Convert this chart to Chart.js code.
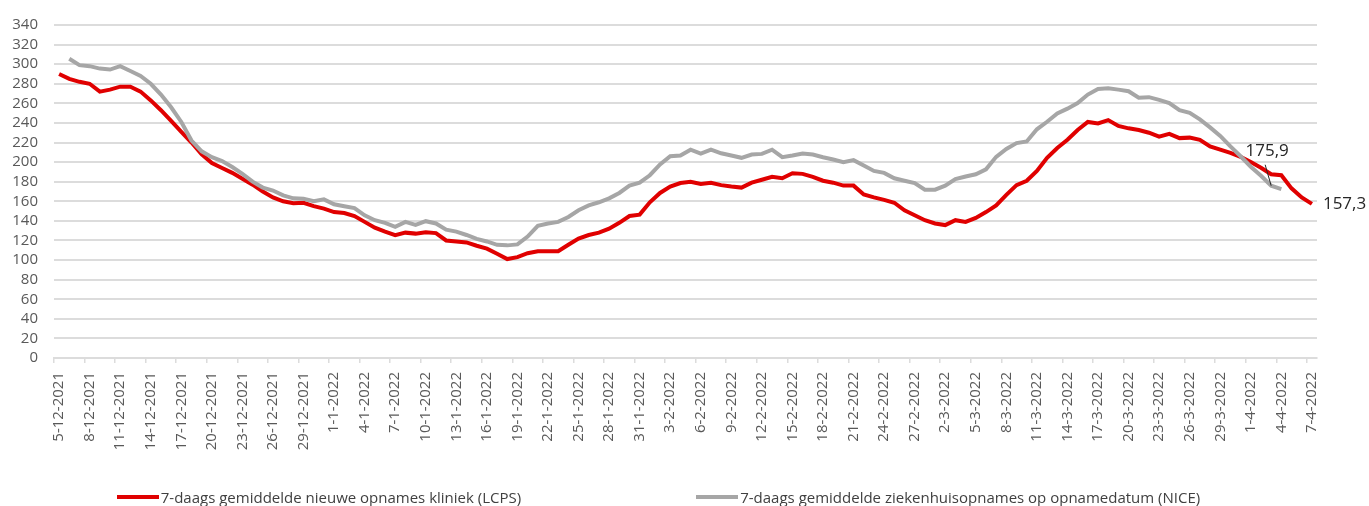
<!DOCTYPE html>
<html>
<head>
<meta charset="utf-8">
<script src="https://cdn.jsdelivr.net/npm/chart.js@4/dist/chart.umd.min.js"></script>
<style>
  html, body { margin: 0; padding: 0; background: #fff; }
  #wrap { position: relative; width: 1369px; height: 506px; }
  #legend {
    position: absolute; left: 0; top: 487px; width: 1317px;
    display: flex; justify-content: center; gap: 175px;
    font: 15px "Open Sans", sans-serif; color: #404040;
  }
  #legend .item { display: flex; align-items: center; }
  #legend .swatch { width: 42px; height: 4px; margin-right: 2px; }
</style>
</head>
<body>
<div id="wrap">
  <canvas id="chart" width="1369" height="506"></canvas>
  <div id="legend"></div>
</div>
<script>
const startDate = new Date(2021, 11, 5);
const dayCount = 124;
const dates = [];
for (let i = 0; i < dayCount; i++) {
  const d = new Date(startDate.getFullYear(), startDate.getMonth(), startDate.getDate() + i);
  dates.push(`${d.getDate()}-${d.getMonth() + 1}-${d.getFullYear()}`);
}

const lcps = [
  290, 285, 282, 280, 272, 274, 277, 277, 272, 263,
  253, 242, 231, 220, 208, 199, 194, 189, 183, 177,
  170, 164, 160, 158, 158.5, 155, 152.5, 149, 148, 145,
  139, 133, 129, 125.5, 128, 127, 128.5, 127.5, 120, 119,
  118, 114.6, 111.6, 106.5, 101, 103, 107, 109, 109, 109,
  115.6, 122, 125.6, 128, 132, 138, 145, 146.4, 159, 168.5,
  175, 178.6, 180, 177.6, 179, 176.5, 175, 174, 179, 182,
  185, 183.6, 188.6, 188, 185, 181, 179, 176, 176, 167,
  164, 161.5, 158.5, 150.8, 145.7, 140.7, 137.4, 135.7, 140.7, 139,
  143, 149, 155.8, 166.5, 176.5, 181, 191, 204.4, 214.4, 222.8,
  232.8, 241, 239.5, 242.9, 236.9, 234.5, 232.8, 230, 226, 228.8,
  224.5, 225, 222.8, 216, 212.7, 209.4, 205.4, 200, 194.3, 187.6,
  186.6, 173.2, 164, 157.3
];

const nice = [
  null, 305.5, 299, 298, 295.5, 294.5, 298, 293, 288, 280,
  269, 256, 241, 222, 211, 205, 201, 195, 188, 180,
  174, 171, 166, 163, 162.5, 160, 162, 157, 155, 153,
  145.7, 140.7, 138, 134, 139, 136, 139.7, 137.4, 131, 129,
  125.6, 121.6, 119, 115.6, 115, 116, 124, 135, 137.4, 139,
  144, 150.8, 155.8, 159, 163, 168.5, 176, 179, 186.6, 197.7,
  206, 206.7, 212.7, 208.7, 212.7, 209, 206.7, 204.4, 207.7, 208.4,
  212.7, 205, 206.7, 208.7, 207.7, 205, 202.7, 200, 202, 196.6,
  191, 189, 183.5, 181, 178.6, 171.9, 171.9, 175.9, 182.6, 185.3,
  187.6, 192.6, 205.4, 213.4, 219.4, 221.1, 233.5, 241.2, 249.6, 254.6,
  260.3, 269, 274.7, 275.4, 274, 272.4, 265.7, 266.3, 263.6, 260.3,
  253, 250.3, 243.6, 235.5, 226.8, 216, 206, 195.3, 186, 175.9,
  172.5, null, null, null
];

const seriesNames = [
  "7-daags gemiddelde nieuwe opnames kliniek (LCPS)",
  "7-daags gemiddelde ziekenhuisopnames op opnamedatum (NICE)"
];
const niceLabelIndex = 119;

const red = "#e00000";
const grey = "#a6a6a6";
const gridGrey = "#dcdcdc";
const textGrey = "#595959";

Chart.defaults.font.family = "'Open Sans', sans-serif";
Chart.defaults.color = textGrey;

const fmt = (v) => v.toFixed(1).replace(".", ",");

const valueLabels = {
  id: "valueLabels",
  afterDatasetsDraw(chart) {
    const { ctx, scales: { x, y } } = chart;
    ctx.save();
    ctx.font = "17px 'Open Sans', sans-serif";
    ctx.fillStyle = "#262626";
    ctx.textBaseline = "middle";

    const last = lcps.length - 1;
    const lx = x.getPixelForValue(last);
    const ly = y.getPixelForValue(lcps[last]);
    ctx.textAlign = "left";
    ctx.fillText(fmt(lcps[last]), lx + 11, ly);

    const gx = x.getPixelForValue(niceLabelIndex);
    const gy = y.getPixelForValue(nice[niceLabelIndex]);
    ctx.strokeStyle = "#262626";
    ctx.lineWidth = 1;
    ctx.beginPath();
    ctx.moveTo(gx, gy);
    ctx.lineTo(gx - 6, gy - 21);
    ctx.stroke();
    ctx.textAlign = "center";
    ctx.fillText(fmt(nice[niceLabelIndex]), gx - 4, gy - 35);
    ctx.restore();
  },
};

const chart = new Chart(document.getElementById("chart"), {
  type: "line",
  data: {
    labels: dates,
    datasets: [
      { label: seriesNames[0], data: lcps, borderColor: red, backgroundColor: red, borderWidth: 4, pointRadius: 0, tension: 0, order: 1 },
      { label: seriesNames[1], data: nice, borderColor: grey, backgroundColor: grey, borderWidth: 4, pointRadius: 0, tension: 0, order: 0 },
    ],
  },
  options: {
    responsive: false,
    animation: false,
    layout: { padding: { top: 17, right: 52, bottom: 48, left: 0 } },
    plugins: {
      legend: { display: false },
      tooltip: { enabled: false },
    },
    scales: {
      x: {
        offset: true,
        afterFit: (scale) => { scale.height = 100; },
        grid: {
          offset: true,
          drawOnChartArea: false,
          drawTicks: true,
          tickLength: 5,
          tickColor: (c) => (c.index % 3 === 0 ? gridGrey : "rgba(0,0,0,0)"),
          lineWidth: 1.5,
        },
        border: { color: gridGrey, width: 2 },
        ticks: {
          autoSkip: false,
          minRotation: 90,
          maxRotation: 90,
          padding: 9,
          font: { size: 15 },
          color: textGrey,
          callback: function (value, index) {
            return index % 3 === 0 ? this.getLabelForValue(value) : "";
          },
        },
      },
      y: {
        min: 0,
        max: 340,
        afterFit: (scale) => { scale.width = 54; },
        border: { display: false },
        grid: { color: gridGrey, lineWidth: 2, drawTicks: false },
        ticks: { stepSize: 20, autoSkip: false, padding: 16, font: { size: 15 }, color: textGrey },
      },
    },
  },
  plugins: [valueLabels],
});

const legendEl = document.getElementById("legend");
chart.data.datasets.forEach((ds) => {
  const item = document.createElement("div");
  item.className = "item";
  const sw = document.createElement("span");
  sw.className = "swatch";
  sw.style.background = ds.borderColor;
  const txt = document.createElement("span");
  txt.textContent = ds.label;
  item.append(sw, txt);
  legendEl.appendChild(item);
});
</script>
</body>
</html>
